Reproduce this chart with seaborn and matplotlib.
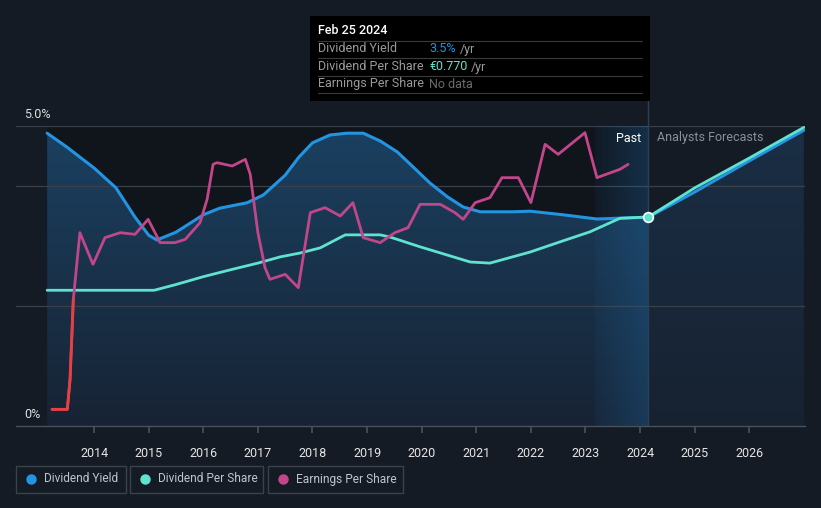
import numpy as np
import pandas as pd
import matplotlib
matplotlib.use("Agg")
import matplotlib.pyplot as plt
import seaborn as sns
from matplotlib.patches import Rectangle
from matplotlib.lines import Line2D

# ---- datos ----
dy_years = [2013.14, 2013.5, 2014.0, 2014.4, 2014.75, 2015.0, 2015.15, 2015.5, 2016.0, 2016.3,
            2016.8, 2017.1, 2017.5, 2017.75, 2018.0, 2018.32, 2018.63, 2018.93, 2019.24, 2019.55,
            2019.84, 2020.15, 2020.47, 2020.76, 2021.07, 2021.67, 2021.99, 2022.59, 2023.21,
            2023.82, 2024.15]
dy_values = [4.88, 4.65, 4.30, 3.97, 3.48, 3.18, 3.10, 3.23, 3.52, 3.63,
             3.72, 3.85, 4.18, 4.48, 4.72, 4.85, 4.88, 4.88, 4.75, 4.57,
             4.32, 4.05, 3.82, 3.65, 3.57, 3.57, 3.58, 3.52, 3.45,
             3.47, 3.48]
dy_fc_years = [2024.15, 2025.0, 2026.0, 2027.0]
dy_fc_values = [3.48, 3.90, 4.42, 4.93]

dps_years = [2013.14, 2015.1, 2015.48, 2016.0, 2016.49, 2017.0, 2017.41, 2017.77, 2018.14, 2018.6,
             2019.24, 2019.42, 2019.97, 2020.89, 2021.25, 2021.99, 2022.53, 2023.08, 2023.63, 2024.15]
dps_values = [0.50, 0.50, 0.52, 0.55, 0.575, 0.60, 0.623, 0.637, 0.656, 0.704,
              0.704, 0.696, 0.66, 0.604, 0.60, 0.641, 0.678, 0.715, 0.765, 0.770]
dps_fc_years = [2024.15, 2025.0, 2026.0, 2027.0]
dps_fc_values = [0.770, 0.877, 0.987, 1.10]

eps_years = [2013.23, 2013.51, 2013.56, 2013.62, 2013.74, 2013.98, 2014.20, 2014.48, 2014.75, 2014.99,
             2015.21, 2015.48, 2015.67, 2015.94, 2016.07, 2016.18, 2016.25, 2016.53, 2016.77, 2016.86,
             2017.0, 2017.13, 2017.22, 2017.5, 2017.74, 2017.96, 2018.23, 2018.51, 2018.74, 2018.93,
             2019.24, 2019.51, 2019.75, 2019.97, 2020.34, 2020.61, 2020.76, 2020.98, 2021.25, 2021.47,
             2021.77, 2022.0, 2022.26, 2022.5, 2022.99, 2023.21, 2023.63, 2023.78]
eps_values = [-0.50, -0.50, -0.32, 0.16, 0.56, 0.37, 0.53, 0.56, 0.55, 0.64,
              0.50, 0.50, 0.52, 0.62, 0.76, 0.97, 0.98, 0.96, 1.00, 0.91,
              0.56, 0.35, 0.28, 0.31, 0.23, 0.68, 0.71, 0.66, 0.74, 0.53,
              0.50, 0.56, 0.59, 0.73, 0.73, 0.68, 0.64, 0.74, 0.77, 0.89,
              0.89, 0.74, 1.09, 1.03, 1.16, 0.89, 0.94, 0.97]

year_ticks = list(range(2014, 2027))
hoy = 2024.15
ultimo_anio = 2023.17

# ---- colores ----
BG = "#151b25"
C_DY = "#2394e2"
C_DPS = "#5fe3cf"
C_EPS = "#c2468a"
C_NEG = "#e8413d"

sns.set_theme(style="dark")
plt.rcParams["font.family"] = ["Roboto", "DejaVu Sans"]

W, H = 821, 508
fig = plt.figure(figsize=(W / 100, H / 100), dpi=100, facecolor=BG)


def px(x, y):
    return x / W, 1 - y / H


ax = fig.add_axes([16 / W, (H - 426) / H, (805 - 16) / W, 300 / H])
ax.set_facecolor(BG)
ax.set_xlim(2012.57, 2027.02)
ax.set_ylim(0, 5.0)

# fondo oscuro del pasado
ax.axvspan(dy_years[0], hoy, color="#10141b", zorder=0, lw=0)


def relleno_gradiente(xs, ys, top, bottom, z):
    poly = ax.fill_between(xs, ys, 0, color="none", lw=0)
    grad = np.linspace(0, 1, 256)[:, None]
    c1 = np.array(matplotlib.colors.to_rgba(top))
    c2 = np.array(matplotlib.colors.to_rgba(bottom))
    img = (c1 * (1 - grad) + c2 * grad).reshape(256, 1, 4)
    im = ax.imshow(img, extent=[xs[0], xs[-1], 0, max(ys)], aspect="auto",
                   origin="upper", zorder=z)
    im.set_clip_path(poly.get_paths()[0], ax.transData)


relleno_gradiente(dy_years, dy_values, "#1b4060", "#172334", 1)
relleno_gradiente(dy_fc_years, dy_fc_values, "#1a2e45", "#172231", 1)

# banda del ultimo anio
band = np.linspace(0.0, 1.0, 64)[None, :]
band_img = np.zeros((1, 64, 4))
band_img[..., :3] = matplotlib.colors.to_rgb("#1f6aa5")
band_img[..., 3] = 0.08 + 0.25 * band
ax.imshow(band_img, extent=[ultimo_anio, hoy, 0, 5.0], aspect="auto", zorder=2)

# lineas de rejilla
for g in [2.0, 4.0, 5.0]:
    ax.axhline(g, color="#3a404a", lw=0.9, zorder=1.5)

# linea vertical de hoy
ax.axvline(hoy, ymin=0, ymax=1 + 25 / 300, color="#2b3f55", lw=1, clip_on=False, zorder=2)

# series
df_dy = pd.DataFrame({"year": dy_years, "value": dy_values})
df_dy_fc = pd.DataFrame({"year": dy_fc_years, "value": dy_fc_values})
sns.lineplot(data=df_dy, x="year", y="value", ax=ax, color=C_DY, lw=2.2, zorder=4)
sns.lineplot(data=df_dy_fc, x="year", y="value", ax=ax, color=C_DY, lw=2.2, zorder=4)

ax2 = ax.twinx()
ax2.set_ylim(0, 1.105)
ax2.axis("off")
df_dps = pd.DataFrame({"year": dps_years, "value": dps_values})
df_dps_fc = pd.DataFrame({"year": dps_fc_years, "value": dps_fc_values})
sns.lineplot(data=df_dps, x="year", y="value", ax=ax2, color=C_DPS, lw=2.0, zorder=5)
sns.lineplot(data=df_dps_fc, x="year", y="value", ax=ax2, color=C_DPS, lw=2.0, zorder=5)
ax2.plot([dps_years[-1]], [dps_values[-1]], marker="o", ms=7, mfc=C_DPS, mec="white",
         mew=1.2, zorder=7, clip_on=False)

ax3 = ax.twinx()
ax3.set_ylim(-0.6, 1.2)
ax3.axis("off")
df_eps = pd.DataFrame({"year": eps_years, "value": eps_values})
sns.lineplot(data=df_eps, x="year", y="value", ax=ax3, color=C_EPS, lw=2.0, zorder=6)
sns.lineplot(data=df_eps.iloc[:4], x="year", y="value", ax=ax3, color=C_NEG, lw=2.0, zorder=6)

for a in (ax, ax2, ax3):
    a.set_xlim(2012.57, 2027.02)

# ejes
ax.set_xticks(year_ticks)
ax.set_xticklabels([str(y) for y in year_ticks], color="#e6e6e6", fontsize=9)
ax.tick_params(axis="x", length=5, color="#4a505a", pad=10, bottom=True)
ax.set_yticks([])
ax.set_xlabel("")
ax.set_ylabel("")
for s in ["top", "left", "right"]:
    ax.spines[s].set_visible(False)
ax.spines["bottom"].set_color("#4a505a")
ax.spines["bottom"].set_linewidth(1)

fig.text(*px(24, 115), "5.0%", color="#e0e0e0", fontsize=9, va="center", ha="left")
fig.text(*px(24, 414), "0%", color="#e0e0e0", fontsize=9, va="center", ha="left")
fig.text(*px(641, 138), "Past", color="white", fontsize=9, va="center", ha="right")
fig.text(*px(657, 138), "Analysts Forecasts", color="#8a8f98", fontsize=9, va="center", ha="left")

# tooltip
x0, y0 = px(310, 101)
fig.add_artist(Rectangle((x0, y0), 340 / W, 85 / H, transform=fig.transFigure,
                         facecolor="black", edgecolor="none", zorder=10))
fig.text(*px(318, 31), "Feb 25 2024", color="white", fontsize=9, fontweight="medium",
         va="center", zorder=11)
for ly in [41, 58, 76, 93]:
    fig.add_artist(Line2D([318 / W, 642 / W], [1 - ly / H] * 2, transform=fig.transFigure,
                          color="#3a3a3a", lw=0.8, zorder=11))
rows = [("Dividend Yield", "3.5%", C_DY, "/yr"),
        ("Dividend Per Share", "€0.770", C_DPS, "/yr"),
        ("Earnings Per Share", "No data", "#6b6b6b", "")]
renderer = fig.canvas.get_renderer()
for i, (lab, val, col, suf) in enumerate(rows):
    yy = [49, 67, 84][i]
    fig.text(*px(318, yy), lab, color="#9a9a9a", fontsize=9, va="center", zorder=11)
    t = fig.text(*px(429, yy), val, color=col, fontsize=9, va="center", zorder=11)
    if suf:
        fin = t.get_window_extent(renderer).x1
        fig.text((fin + 4) / W, 1 - yy / H, suf, color="#9a9a9a", fontsize=9,
                 va="center", ha="left", zorder=11)

# leyenda
items = [("Dividend Yield", C_DY, 16, 126), ("Dividend Per Share", C_DPS, 130, 263),
         ("Earnings Per Share", C_EPS, 268, 403)]
for lab, col, bx0, bx1 in items:
    fig.add_artist(Rectangle(px(bx0, 493), (bx1 - bx0) / W, 27 / H, transform=fig.transFigure,
                             facecolor=BG, edgecolor="#3c424c", lw=1))
    fig.add_artist(Line2D([(bx0 + 15) / W], [1 - 479 / H], transform=fig.transFigure,
                          marker="o", ms=6.5, color=col, lw=0))
    fig.text(*px(bx0 + 28, 479), lab, color="#c0c4cc", fontsize=8.6, va="center")

fig.savefig("out.png", dpi=100, facecolor=BG)
